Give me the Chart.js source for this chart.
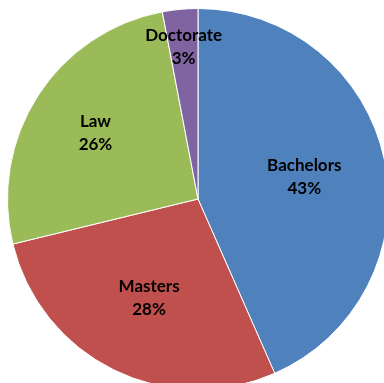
<!DOCTYPE html>
<html>
<head>
<meta charset="utf-8">
<script src="https://cdn.jsdelivr.net/npm/chart.js@4/dist/chart.umd.min.js"></script>
<style>
  html, body { margin: 0; padding: 0; background: #fff; overflow: hidden; }
  #wrap { position: absolute; left: 0; top: 0; width: 396px; height: 398px; }
</style>
</head>
<body>
<div id="wrap"><canvas id="chartCanvas"></canvas></div>
<script>
// Adatok
var categories = ["Bachelors", "Masters", "Law", "Doctorate"];
var shares = [43.4, 27.8, 25.8, 3.0];
var colors = ["#4F81BD", "#C0504D", "#9BBB59", "#8064A2"];
// how far out (fraction of radius) each label sits
var labelDist = [0.57, 0.58, 0.64, 0.80];

// labels drawn inside the slices, name + percent
var sliceLabels = {
    id: "sliceLabels",
    afterDatasetsDraw: function (chart) {
        var ctx = chart.ctx;
        var meta = chart.getDatasetMeta(0);
        var total = shares.reduce(function (a, b) { return a + b; }, 0);
        ctx.save();
        ctx.fillStyle = "#000";
        ctx.font = "bold 17px Lato";
        ctx.textAlign = "center";
        ctx.textBaseline = "middle";
        meta.data.forEach(function (arc, i) {
            var p = arc.getProps(["x", "y", "startAngle", "endAngle", "outerRadius"], true);
            var mid = (p.startAngle + p.endAngle) / 2;
            var r = p.outerRadius * labelDist[i];
            var x = p.x + Math.cos(mid) * r;
            var y = p.y + Math.sin(mid) * r;
            var pct = Math.round(shares[i] / total * 100) + "%";
            ctx.fillText(categories[i], x, y - 11.5);
            ctx.fillText(pct, x, y + 11.5);
        });
        ctx.restore();
    }
};

var ctx = document.getElementById("chartCanvas").getContext("2d");
var chart = new Chart(ctx, {
    type: "pie",
    data: {
        labels: categories,
        datasets: [{
            data: shares,
            backgroundColor: colors,
            borderColor: "#ffffff",
            borderWidth: 1
        }]
    },
    options: {
        responsive: true,
        maintainAspectRatio: false,
        animation: false,
        layout: { padding: { left: 7, right: 7, top: 8, bottom: 8 } },
        plugins: {
            legend: { display: false },
            tooltip: { enabled: false }
        }
    },
    plugins: [sliceLabels]
});
</script>
</body>
</html>
